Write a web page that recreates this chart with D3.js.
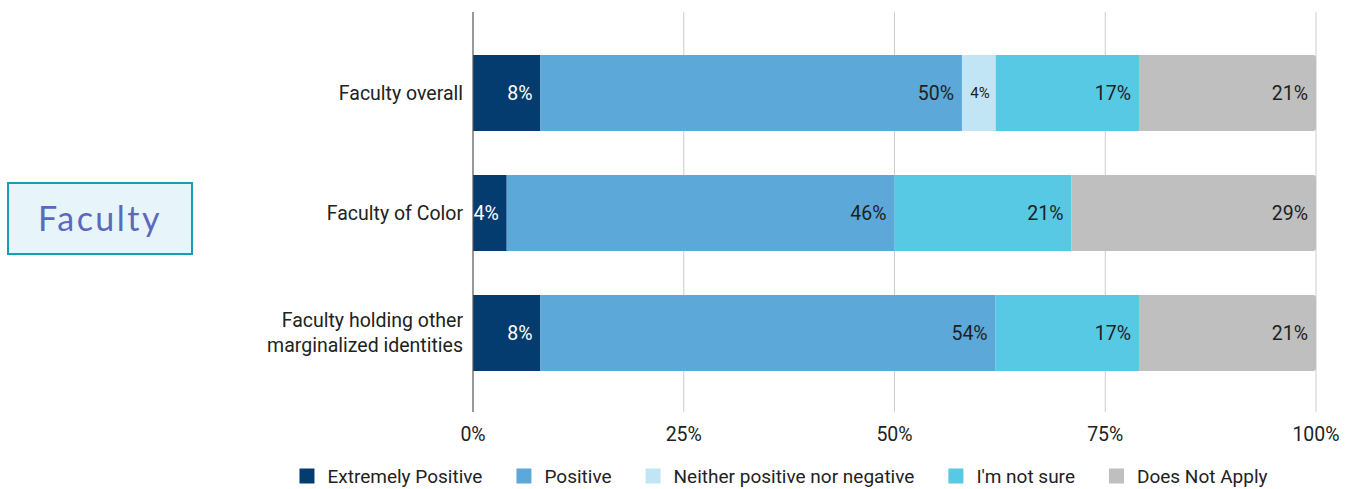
<!DOCTYPE html>
<html>
<head>
<meta charset="utf-8">
<script src="https://cdn.jsdelivr.net/npm/d3@7/dist/d3.min.js"></script>
<style>
  html, body { margin: 0; padding: 0; background: #ffffff; }
  svg { display: block; font-family: Roboto, "Noto Sans", sans-serif; }
</style>
</head>
<body>
<svg id="chart" width="1356" height="489"></svg>
<script>
// Survey groups (y axis), top to bottom
const categories = [
  ["Faculty overall"],
  ["Faculty of Color"],
  ["Faculty holding other", "marginalized identities"]
];
const categoryKeys = categories.map(c => c.join(" "));

// Response options, in stacking order
const seriesNames = ["Extremely Positive", "Positive", "Neither positive nor negative", "I'm not sure", "Does Not Apply"];
const seriesColors = ["#053c70", "#5ca8d8", "#c2e5f6", "#57c9e4", "#bfbfbf"];
const labelColors = ["#ffffff", "#1f1f1f", "#1f1f1f", "#1f1f1f", "#1f1f1f"];

// Percent of respondents per group, one array per response option
const extremelyPositive = [8, 4, 8];
const positive = [50, 46, 54];
const neither = [4, 0, 0];
const notSure = [17, 21, 17];
const doesNotApply = [21, 29, 21];
const seriesValues = [extremelyPositive, positive, neither, notSure, doesNotApply];

// Axis ticks
const xTicks = [0, 25, 50, 75, 100];
const xTickLabels = ["0%", "25%", "50%", "75%", "100%"];

const FONT = 19.5;
const LEGEND_FONT = 19;

const svg = d3.select("#chart");

const x = d3.scaleLinear().domain([0, 100]).range([473, 1316]);
const y = d3.scaleBand().domain(categoryKeys).range([15, 411])
  .paddingInner(0.3667).paddingOuter(0.3333);

const gridTop = 12, gridBottom = 412;

// Vertical gridlines
svg.append("g").selectAll("line")
  .data(xTicks.filter(t => t > 0))
  .join("line")
  .attr("x1", d => x(d)).attr("x2", d => x(d))
  .attr("y1", gridTop).attr("y2", gridBottom)
  .attr("stroke", "#cccccc").attr("stroke-width", 1);

// Build stacked rows
const table = categoryKeys.map((key, i) => {
  const row = { key };
  seriesNames.forEach((s, j) => { row[s] = seriesValues[j][i]; });
  return row;
});
const stacked = d3.stack().keys(seriesNames)(table);

// Right-rounded rect path for the final segment of each bar
function roundedRight(x0, y0, w, h, r) {
  r = Math.min(r, w);
  return `M${x0},${y0}H${x0 + w - r}Q${x0 + w},${y0} ${x0 + w},${y0 + r}` +
         `V${y0 + h - r}Q${x0 + w},${y0 + h} ${x0 + w - r},${y0 + h}H${x0}Z`;
}

const bars = svg.append("g");
stacked.forEach((layer, j) => {
  const isLast = j === stacked.length - 1;
  layer.forEach((seg, i) => {
    const v = seg[1] - seg[0];
    if (v <= 0) return;
    const x0 = x(seg[0]), w = x(seg[1]) - x(seg[0]);
    const y0 = y(categoryKeys[i]), h = y.bandwidth();
    if (isLast) {
      bars.append("path").attr("d", roundedRight(x0, y0, w, h, 3)).attr("fill", seriesColors[j]);
    } else {
      bars.append("rect").attr("x", x0).attr("y", y0).attr("width", w).attr("height", h)
        .attr("fill", seriesColors[j]);
    }
  });
});

// Value labels, right-aligned inside each segment
const labels = svg.append("g");
stacked.forEach((layer, j) => {
  layer.forEach((seg, i) => {
    const v = seg[1] - seg[0];
    if (v <= 0) return;
    const small = seriesNames[j] === "Neither positive nor negative";
    labels.append("text")
      .attr("x", x(seg[1]) - (small ? 6 : 8))
      .attr("y", y(categoryKeys[i]) + y.bandwidth() / 2)
      .attr("dy", "0.35em")
      .attr("text-anchor", "end")
      .attr("font-size", small ? 15 : FONT)
      .attr("fill", labelColors[j])
      .text(v + "%");
  });
});

// Baseline axis
svg.append("line")
  .attr("x1", x(0)).attr("x2", x(0))
  .attr("y1", gridTop).attr("y2", gridBottom)
  .attr("stroke", "#555555").attr("stroke-width", 1.2);

// X tick labels
svg.append("g").selectAll("text")
  .data(xTicks)
  .join("text")
  .attr("x", d => x(d))
  .attr("y", 434)
  .attr("dy", "0.35em")
  .attr("text-anchor", "middle")
  .attr("font-size", FONT)
  .attr("fill", "#222222")
  .text((d, i) => xTickLabels[i]);

// Category labels
categories.forEach((lines, i) => {
  const cy = y(categoryKeys[i]) + y.bandwidth() / 2;
  const lh = 25;
  const t = svg.append("text")
    .attr("text-anchor", "end")
    .attr("font-size", FONT)
    .attr("fill", "#222222");
  lines.forEach((ln, k) => {
    t.append("tspan")
      .attr("x", 463)
      .attr("y", cy + (k - (lines.length - 1) / 2) * lh)
      .attr("dy", "0.35em")
      .text(ln);
  });
});

// Legend
const legend = svg.append("g");
const items = [];
let cursor = 0;
seriesNames.forEach((name, j) => {
  const g = legend.append("g");
  g.append("rect").attr("x", 0).attr("y", -7.5).attr("width", 15).attr("height", 15)
    .attr("fill", seriesColors[j]);
  const t = g.append("text").attr("x", 28).attr("y", 0).attr("dy", "0.35em")
    .attr("font-size", LEGEND_FONT).attr("fill", "#222222").text(name);
  const w = 28 + t.node().getComputedTextLength();
  items.push({ g, offset: cursor });
  cursor += w + 34;
});
const legendWidth = cursor - 34;
const legendStart = 783.5 - legendWidth / 2;
items.forEach(it => it.g.attr("transform", `translate(${legendStart + it.offset},476)`));

// Section badge
const badge = svg.append("g");
badge.append("rect")
  .attr("x", 8).attr("y", 183).attr("width", 184).attr("height", 71)
  .attr("fill", "#e7f5fa").attr("stroke", "#1a9db3").attr("stroke-width", 2);
badge.append("text")
  .attr("x", 100).attr("y", 219)
  .attr("dy", "0.35em")
  .attr("text-anchor", "middle")
  .attr("font-family", "Lato, 'Noto Sans', sans-serif")
  .attr("font-size", 34)
  .attr("letter-spacing", 2.5)
  .attr("fill", "#5b69bd")
  .text("Faculty");
</script>
</body>
</html>
